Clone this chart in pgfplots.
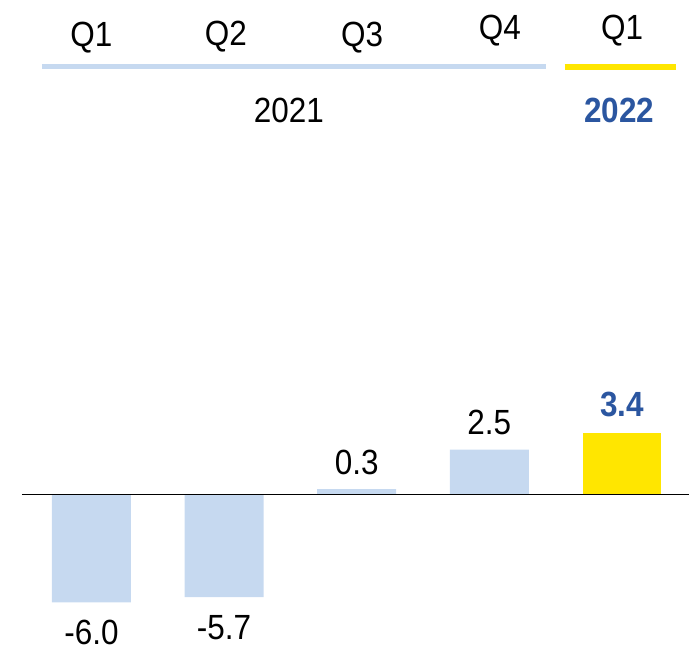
\documentclass[border=0pt]{standalone}
\usepackage{fontspec}
\setmainfont{Liberation Sans}[FakeStretch=0.9]
\usepackage{pgfplots}
\pgfplotsset{compat=1.18}
\definecolor{lblue}{HTML}{C6D9F0}
\definecolor{gold}{HTML}{FFE600}
\definecolor{dblue}{HTML}{2B56A0}
\newcommand{\lbl}{\fontsize{17.5}{21}\selectfont}

\begin{document}
\begin{tikzpicture}
\begin{axis}[
    scale only axis, width=345pt, height=325pt,
    xmin=-0.689, xmax=4.508, ymin=-8.611, ymax=27.5,
    hide axis, clip=false,
    ybar, bar width=0.595, bar shift=0pt,
    /pgf/number format/fixed,
    /pgf/number format/fixed zerofill,
    /pgf/number format/precision=1,
    /pgf/number format/assume math mode=true,
    every node near coord/.append style={font=\lbl, anchor=center},
]
% 2021, negative quarters
\addplot[fill=lblue, draw=none, nodes near coords,
    every node near coord/.append style={yshift=-15.25pt}]
    coordinates {(0,-6.0) (1,-5.7)};
% 2021, positive quarters
\addplot[fill=lblue, draw=none, nodes near coords,
    every node near coord/.append style={yshift=13.5pt}]
    coordinates {(2,0.3) (3,2.5)};
% 2022 Q1
\addplot[fill=gold, draw=none, nodes near coords,
    every node near coord/.append style={yshift=14.5pt, text=dblue, font=\lbl\bfseries}]
    coordinates {(4,3.4)};

\draw[black, line width=0.6pt] (axis cs:-0.524,0) -- (axis cs:4.508,0);

% header
\node[font=\lbl] at (axis cs:0,25.39) {Q1};
\node[font=\lbl] at (axis cs:1.013,25.45) {Q2};
\node[font=\lbl] at (axis cs:2.04,25.39) {Q3};
\node[font=\lbl] at (axis cs:3.08,25.8) {Q4};
\node[font=\lbl] at (axis cs:4.0,25.8) {Q1};
\draw[lblue, line width=2.5pt] (axis cs:-0.373,23.78) -- (axis cs:3.424,23.78);
\draw[gold, line width=3pt] (axis cs:3.567,23.78) -- (axis cs:4.41,23.78);
\node[font=\lbl] at (axis cs:1.488,21.33) {2021};
\node[font=\lbl\bfseries, text=dblue] at (axis cs:3.98,21.33) {2022};

\path (rel axis cs:0,0) rectangle (rel axis cs:1,1);
\end{axis}
\end{tikzpicture}
\end{document}
